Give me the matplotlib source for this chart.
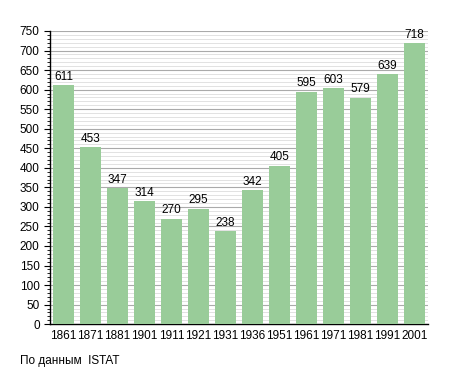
import numpy as np
import matplotlib.pyplot as plt
from matplotlib.ticker import MultipleLocator

plt.rcParams['font.family'] = ['Liberation Sans', 'DejaVu Sans']

years = ['1861', '1871', '1881', '1901', '1911', '1921', '1931',
         '1936', '1951', '1961', '1971', '1981', '1991', '2001']
population = [611, 453, 347, 314, 270, 295, 238, 342, 405, 595, 603, 579, 639, 718]

fig = plt.figure(figsize=(4.55, 3.73), dpi=100)
ax = fig.add_axes([0.110, 0.131, 0.830, 0.786])

x = np.arange(len(years))
ax.bar(x, population, width=0.77, color='#99cc99', zorder=3)
for xi, v in zip(x, population):
    ax.text(xi, v + 6, str(v), ha='center', va='bottom', fontsize=8.5, zorder=4)

ax.set_xlim(-0.5, len(years) - 0.5)
ax.set_ylim(0, 750)
ax.set_xticks(x)
ax.set_xticklabels(years)
ax.yaxis.set_major_locator(MultipleLocator(50))
ax.yaxis.set_minor_locator(MultipleLocator(10))
ax.grid(axis='y', which='major', color='#aaaaaa', linewidth=0.8, zorder=0)
ax.grid(axis='y', which='minor', color='#dddddd', linewidth=0.6, zorder=0)
ax.tick_params(axis='x', length=0, labelsize=8.5, pad=4)
ax.tick_params(axis='y', which='major', length=4, labelsize=8.5, direction='out')
ax.tick_params(axis='y', which='minor', length=2, direction='out')
for s in ['top', 'right']:
    ax.spines[s].set_visible(False)
for s in ['left', 'bottom']:
    ax.spines[s].set_linewidth(1.0)

fig.text(0.044, 0.025, 'По данным  ISTAT', fontsize=8.5)

fig.savefig('out.png', dpi=100)
